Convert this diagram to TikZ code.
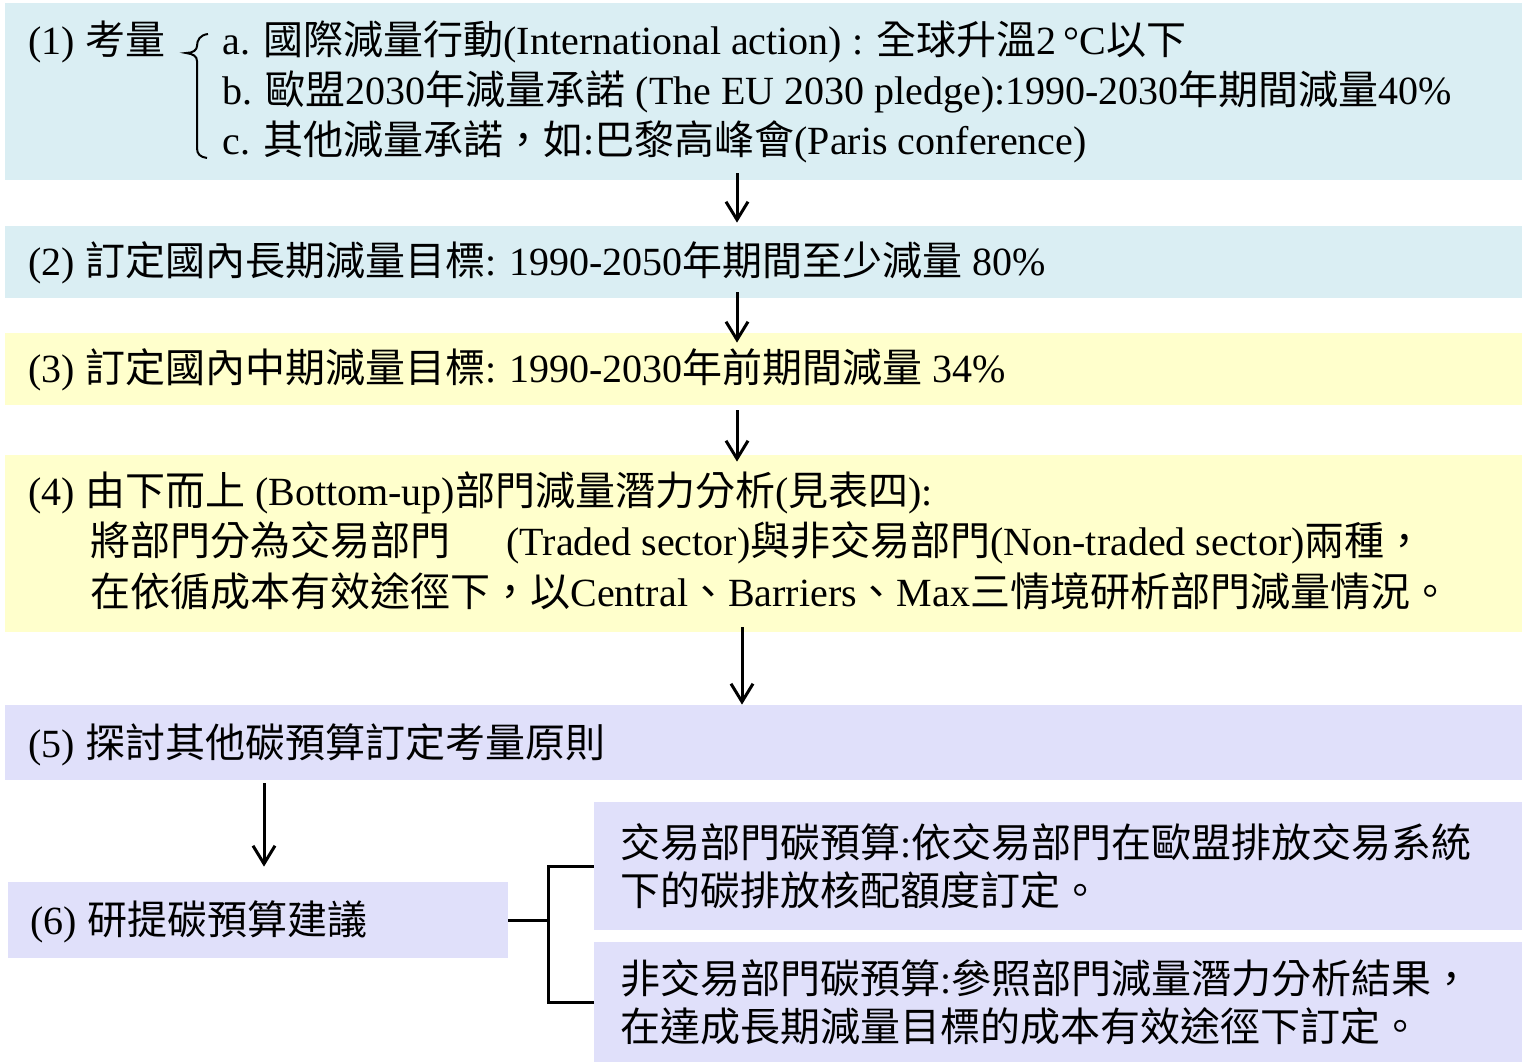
\documentclass[tikz,border=0pt]{standalone}
\usepackage{fontspec}
\setmainfont{Liberation Serif}
\newfontfamily\cjkfont{Noto Sans CJK TC}
\newcommand\zh[1]{{\cjkfont #1}}
\usetikzlibrary{arrows.meta,fit}
\definecolor{bluebox}{HTML}{DAEEF3}
\definecolor{yelbox}{HTML}{FFFFCC}
\definecolor{lavbox}{HTML}{E0E0FA}
\begin{document}
\begin{tikzpicture}[x=0.5pt,y=-0.5pt,
  box/.style={inner sep=0pt, draw=none},
  txt/.style={anchor=base west, inner sep=0pt, font=\fontsize{20}{25}\selectfont},
  arr/.style={-{Straight Barb[length=9pt,width=11pt]}, line width=1.5pt}]
\useasboundingbox (0,0) rectangle (1525,1062);
% boxes
\node[box, fill=bluebox, fit={(5,3) (1522,180)}] (b1) {};
\node[box, fill=bluebox, fit={(5,226) (1522,298)}] (b2) {};
\node[box, fill=yelbox, fit={(5,333) (1522,405)}] (b3) {};
\node[box, fill=yelbox, fit={(5,455) (1522,632)}] (b4) {};
\node[box, fill=lavbox, fit={(5,705) (1522,780)}] (b5) {};
\node[box, fill=lavbox, fit={(8,882) (508,958)}] (b6) {};
\node[box, fill=lavbox, fit={(594,802) (1522,930)}] (b7) {};
\node[box, fill=lavbox, fit={(594,942) (1522,1062)}] (b8) {};
% box 1 text
\node[txt] (t1) at (28,54) {(1) \zh{考量}};
\draw[line width=1pt] (208,34) .. controls (200,35) and (197,40) .. (197,46)
  .. controls (197,50) and (193,53) .. (186,53)
  .. controls (193,54) and (197,56) .. (197,61) -- (197,148)
  .. controls (197,154) and (200,157) .. (207,158);
\node[txt] (t1a) at (222,54) {a. \zh{國際減量行動}(International action) : \zh{全球升溫}2\,°C\zh{以下}};
\node[txt] (t1b) at (222,104) {b. \zh{歐盟}2030\zh{年減量承諾} (The EU 2030 pledge):1990-2030\zh{年期間減量}40\%};
\node[txt] (t1c) at (222,154) {c. \zh{其他減量承諾，如}:\zh{巴黎高峰會}(Paris conference)};
% box 2,3
\node[txt] (t2) at (28,275) {(2) \zh{訂定國內長期減量目標}: 1990-2050\zh{年期間至少減量} 80\%};
\node[txt] (t3) at (28,382) {(3) \zh{訂定國內中期減量目標}: 1990-2030\zh{年前期間減量} 34\%};
% box 4
\node[txt] (t4a) at (28,505) {(4) \zh{由下而上} (Bottom-up)\zh{部門減量潛力分析}(\zh{見表四}):};
\node[txt] (t4b) at (90,555) {\zh{將部門分為交易部門}\hspace{28pt}(Traded sector)\zh{與非交易部門}(Non-traded sector)\zh{兩種，}};
\node[txt] (t4c) at (90,606) {\zh{在依循成本有效途徑下，以}Central\zh{、}Barriers\zh{、}Max\zh{三情境研析部門減量情況。}};
% box 5,6
\node[txt] (t5) at (28,757) {(5) \zh{探討其他碳預算訂定考量原則}};
\node[txt] (t6) at (30,934) {(6) \zh{研提碳預算建議}};
% box 7,8
\node[txt] (t7a) at (620,857) {\zh{交易部門碳預算}:\zh{依交易部門在歐盟排放交易系統}};
\node[txt] (t7b) at (620,905) {\zh{下的碳排放核配額度訂定。}};
\node[txt] (t8a) at (620,993) {\zh{非交易部門碳預算}:\zh{參照部門減量潛力分析結果，}};
\node[txt] (t8b) at (620,1041) {\zh{在達成長期減量目標的成本有效途徑下訂定。}};
% arrows
\coordinate (ax) at (737,0);
\coordinate (bx) at (742,0);
\coordinate (cx) at (264,0);
\draw[arr, shorten <=-3.5pt, shorten >=1.5pt] (b1.south -| ax) -- (b2.north -| ax);
\draw[arr, shorten <=-3pt, shorten >=-5pt] (b2.south -| ax) -- (b3.north -| ax);
\draw[arr, shorten <=2.5pt, shorten >=-3.5pt] (b3.south -| ax) -- (b4.north -| ax);
\draw[arr, shorten <=-2.5pt, shorten >=0pt] (b4.south -| bx) -- (b5.north -| bx);
\draw[arr, shorten <=1.5pt, shorten >=7.5pt] (b5.south -| cx) -- (b6.north -| cx);
% bracket
\coordinate (j) at (548,920);
\draw[line width=1.5pt] (b6.east) -- (j);
\draw[line width=1.5pt] (b7.west) -| (j) |- (b8.west);
\end{tikzpicture}
\end{document}
